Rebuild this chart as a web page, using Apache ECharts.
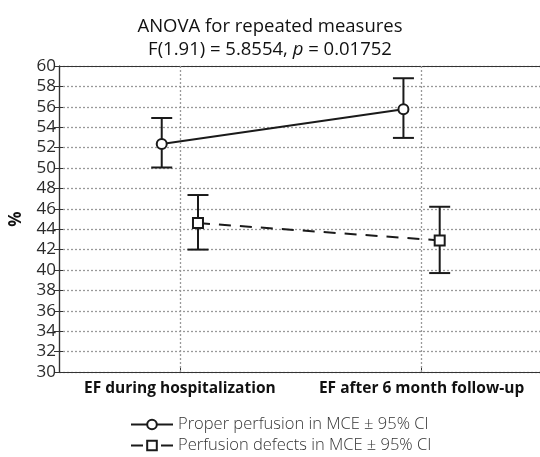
<!DOCTYPE html>
<html>
<head>
<meta charset="utf-8">
<script src="https://cdn.jsdelivr.net/npm/echarts@6/dist/echarts.min.js"></script>
<style>
  html, body { margin: 0; padding: 0; background: #fff; }
  #chart { width: 540px; height: 457px; }
</style>
</head>
<body>
<div id="chart"></div>
<script>
// categories and their x positions on the value axis
var categories = ['EF during hospitalization', 'EF after 6 month follow-up'];
var catPos = [1, 3];

// Proper perfusion in MCE (mean and 95% CI)
var properMean = [52.35, 55.75];
var properLow = [50.05, 52.95];
var properHigh = [54.9, 58.8];

// Perfusion defects in MCE (mean and 95% CI)
var defectMean = [44.6, 42.9];
var defectLow = [42.0, 39.7];
var defectHigh = [47.35, 46.2];

var properName = 'Proper perfusion in MCE ± 95% CI';
var defectName = 'Perfusion defects in MCE ± 95% CI';

var shift = 0.15;
var font = 'Open Sans';
var ink = '#1a1a1a';

function points(mean, dx) {
    var out = [];
    for (var i = 0; i < mean.length; i++) out.push([catPos[i] + dx, mean[i]]);
    return out;
}
function bars(low, high, dx) {
    var out = [];
    for (var i = 0; i < low.length; i++) out.push([catPos[i] + dx, low[i], high[i]]);
    return out;
}

// vertical whisker with caps
function renderBar(params, api) {
    var lo = api.coord([api.value(0), api.value(1)]);
    var hi = api.coord([api.value(0), api.value(2)]);
    var w = 10.5;
    var st = { stroke: ink, lineWidth: 2 };
    return {
        type: 'group',
        children: [
            { type: 'line', shape: { x1: lo[0], y1: lo[1], x2: hi[0], y2: hi[1] }, style: st },
            { type: 'line', shape: { x1: lo[0] - w, y1: lo[1], x2: lo[0] + w, y2: lo[1] }, style: st },
            { type: 'line', shape: { x1: hi[0] - w, y1: hi[1], x2: hi[0] + w, y2: hi[1] }, style: st }
        ]
    };
}

var legendText = { fontFamily: font, fontSize: 16.5, color: '#333', fontWeight: 300 };

var chart = echarts.init(document.getElementById('chart'));

var option = {
    animation: false,
    backgroundColor: '#fff',
    title: {
        text: 'ANOVA for repeated measures\nF(1.91) = 5.8554, {i|p} = 0.01752',
        left: 'center',
        top: 10,
        textStyle: {
            fontFamily: font,
            fontSize: 18.5,
            fontWeight: 500,
            color: '#111',
            lineHeight: 23,
            rich: {
                i: { fontFamily: font, fontSize: 18.5, fontWeight: 500, fontStyle: 'italic', color: '#111', lineHeight: 23 }
            }
        }
    },
    legend: [{
        data: [properName],
        left: 125,
        top: 411,
        itemWidth: 42,
        itemHeight: 12,
        textStyle: legendText
    }, {
        data: [defectName],
        left: 125,
        top: 432,
        itemWidth: 42,
        itemHeight: 12,
        lineStyle: { type: [12, 18] },
        textStyle: legendText
    }],
    grid: {
        left: 53,
        right: 0,
        top: 66,
        bottom: 85
    },
    xAxis: [{
        type: 'value',
        min: 0,
        max: 3.98,
        axisLine: { show: true, lineStyle: { color: '#333', width: 1.2 } },
        axisTick: { show: true, inside: true, length: 5, customValues: catPos, lineStyle: { color: '#333' } },
        axisLabel: {
            show: true,
            customValues: catPos,
            formatter: function (v) { return categories[catPos.indexOf(v)]; },
            fontFamily: font,
            fontSize: 15.5,
            fontWeight: 'bold',
            color: '#111',
            margin: 9
        },
        splitLine: { show: false }
    }, {
        type: 'value',
        position: 'top',
        min: 0,
        max: 3.98,
        axisLine: { show: true, lineStyle: { color: '#333', width: 1.2 } },
        axisTick: { show: false },
        axisLabel: { show: false },
        splitLine: { show: false }
    }],
    yAxis: [{
        type: 'value',
        name: '%',
        nameLocation: 'middle',
        nameGap: 34,
        nameRotate: 90,
        nameTextStyle: { fontFamily: font, fontSize: 17, fontWeight: 'bold', color: '#111' },
        min: 30,
        max: 60,
        interval: 2,
        axisLine: { show: true, lineStyle: { color: '#333', width: 1.2 } },
        axisTick: { show: true, inside: true, length: 4, lineStyle: { color: '#333' } },
        axisLabel: { fontFamily: font, fontSize: 17, color: '#2a2a2a', margin: 3 },
        splitLine: { show: true, lineStyle: { color: '#999', width: 1.3, type: [2, 2] } }
    }, {
        type: 'value',
        position: 'right',
        min: 30,
        max: 60,
        interval: 2,
        axisLine: { show: true, lineStyle: { color: '#333', width: 1.2 } },
        axisTick: { show: true, inside: true, length: 5, lineStyle: { color: '#333' } },
        axisLabel: { show: false },
        splitLine: { show: false }
    }],
    series: [{
        type: 'custom',
        name: 'properBars',
        renderItem: renderBar,
        data: bars(properLow, properHigh, -shift),
        z: 2,
        silent: true,
        markLine: {
            silent: true,
            symbol: 'none',
            label: { show: false },
            lineStyle: { color: '#999', width: 1.3, type: [2, 2] },
            data: [{ xAxis: catPos[0] }, { xAxis: catPos[1] }]
        }
    }, {
        type: 'custom',
        name: 'defectBars',
        renderItem: renderBar,
        data: bars(defectLow, defectHigh, shift),
        z: 2,
        silent: true
    }, {
        type: 'line',
        name: properName,
        data: points(properMean, -shift),
        symbol: 'circle',
        symbolSize: 10,
        showSymbol: true,
        color: ink,
        lineStyle: { color: ink, width: 2 },
        itemStyle: { color: '#fff', borderColor: ink, borderWidth: 2 },
        z: 3
    }, {
        type: 'line',
        name: defectName,
        data: points(defectMean, shift),
        symbol: 'rect',
        symbolSize: 10,
        showSymbol: true,
        color: ink,
        lineStyle: { color: ink, width: 2, type: [12, 9] },
        itemStyle: { color: '#fff', borderColor: ink, borderWidth: 2 },
        z: 3
    }]
};

chart.setOption(option);
</script>
</body>
</html>
